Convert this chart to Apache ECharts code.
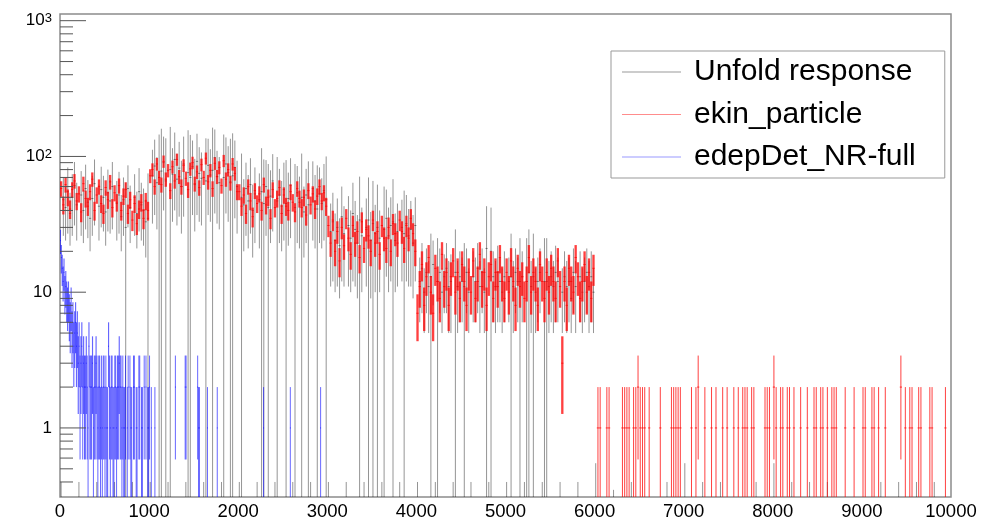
<!DOCTYPE html>
<html>
<head>
<meta charset="utf-8">
<script src="https://cdn.jsdelivr.net/npm/echarts@6/dist/echarts.min.js"></script>
<style>
  html, body { margin: 0; padding: 0; background: #fff; }
  #chart { width: 996px; height: 521px; }
</style>
</head>
<body>
<div id="chart"></div>
<script>
// ---- data ----
var seriesNames = ['Unfold response', 'ekin_particle', 'edepDet_NR-full'];

var binWidth = 25;      // black and red histograms
var blueBinWidth = 10;  // blue histogram

// Unfold response: bin contents and errors, 0..10000 in 25-unit bins
var blackVal = [
  0.2, 48, 42, 55, 38, 50, 61, 44, 0.2, 52, 40, 58, 46, 35, 49, 63, 0.2, 43, 57, 50,
  39, 54, 47, 60, 0.2, 45, 52, 36, 48, 30, 58, 42, 0.2, 50, 38, 55, 44, 40, 33, 35,
  0.2, 72, 85, 64, 70, 78, 90, 66, 0.2, 80, 74, 95, 68, 82, 60, 88, 0.2, 76, 70, 84,
  62, 92, 75, 69, 0.2, 66, 86, 73, 79, 98, 71, 64, 0.2, 70, 88, 76, 65, 72, 83, 60,
  0.2, 50, 44, 58, 47, 62, 40, 53, 0.2, 48, 55, 45, 60, 42, 51, 66, 0.2, 47, 52, 43,
  57, 45, 49, 61, 0.2, 42, 54, 46, 50, 39, 52, 44, 0.2, 58, 47, 41, 53, 45, 56, 48,
  0.2, 28, 33, 24, 30, 22, 36, 27, 0.2, 31, 25, 38, 29, 23, 34, 26, 0.2, 30, 34, 24,
  32, 27, 30, 25, 0.2, 29, 35, 26, 31, 33, 24, 28, 0.2, 30, 27, 32, 26, 29, 23, 31,
  0.2, 12, 15, 10, 14, 11, 13, 16, 0.2, 12, 14, 10, 13, 15, 11, 12, 0.2, 14, 11, 13,
  12, 11, 14, 10, 0.2, 13, 12, 15, 11, 14, 10, 21, 0.2, 20, 13, 11, 14, 12, 10, 13,
  0.2, 12, 13, 11, 14, 12, 12, 13, 0.2, 12, 14, 11, 13, 10, 12, 14, 0.2, 12, 12, 11,
  13, 11, 14, 12, 0.2, 10, 13, 11, 12, 9, 14, 11, 0.2, 13, 10, 12, 14, 11, 13, 10,
  0.3, 0, 0, 0, 0, 0, 0, 0, 0.18, 0, 0, 0, 0, 0, 0, 0, 0.2, 0, 0, 0,
  0, 0, 0, 0, 0, 0, 0, 0, 0, 0, 0, 0, 0.2, 0, 0, 0, 0, 0, 0, 0,
  0.3, 0, 0, 0, 0, 0, 0, 0, 0.2, 0, 0, 0, 0, 0, 0, 0, 0.2, 0, 0, 0,
  0, 0, 0, 0, 0, 0, 0, 0, 0, 0, 0, 0, 0.2, 0, 0, 0, 0, 0, 0, 0,
  0.3, 0, 0, 0, 0, 0, 0, 0, 0.2, 0, 0, 0, 0, 0, 0, 0, 0.2, 0, 0, 0,
  0, 0, 0, 0, 0.2, 0, 0, 0, 0, 0, 0, 0, 0, 0, 0, 0, 0, 0, 0, 0,
  0, 0, 0, 0, 0, 0, 0, 0, 0.2, 0, 0, 0, 0, 0, 0, 0, 0.2, 0, 0, 0,
  0, 0, 0, 0, 0.2, 0, 0, 0, 0, 0, 0, 0, 0.2, 0, 0, 0, 0, 0, 0, 0
];
var blackErr = [
  0.2, 22, 18, 28, 16, 24, 30, 20, 0.2, 26, 17, 29, 21, 15, 23, 32, 0.2, 19, 27, 22,
  17, 26, 20, 31, 0.2, 21, 25, 16, 22, 34, 28, 19, 0.2, 24, 17, 27, 20, 18, 15, 40,
  0.2, 40, 48, 35, 75, 82, 50, 70, 0.2, 85, 41, 55, 37, 46, 33, 52, 0.2, 80, 74, 47,
  34, 55, 42, 38, 0.2, 70, 49, 40, 84, 60, 39, 35, 0.2, 75, 50, 43, 70, 76, 48, 33,
  0.2, 55, 24, 32, 26, 35, 22, 30, 0.2, 27, 60, 50, 34, 46, 28, 38, 0.2, 52, 29, 23,
  33, 49, 27, 36, 0.2, 46, 31, 25, 55, 21, 29, 48, 0.2, 34, 26, 45, 30, 24, 32, 52,
  0.2, 17, 21, 14, 19, 13, 24, 16, 0.2, 20, 15, 26, 18, 14, 37, 16, 0.2, 19, 36, 15,
  34, 17, 32, 15, 0.2, 31, 22, 16, 19, 35, 14, 17, 0.2, 18, 29, 20, 15, 18, 14, 19,
  0.2, 6, 8, 5, 7, 6, 14, 8, 0.2, 13, 7, 5, 6, 8, 6, 7, 0.2, 15, 6, 7,
  6, 12, 7, 5, 0.2, 7, 6, 8, 6, 7, 5, 22, 0.2, 22, 7, 6, 8, 6, 5, 7,
  0.2, 6, 14, 6, 7, 6, 13, 7, 0.2, 13, 15, 6, 14, 5, 6, 7, 0.2, 13, 13, 6,
  7, 6, 8, 6, 0.2, 5, 7, 6, 6, 4, 7, 6, 0.2, 7, 5, 6, 7, 6, 7, 5,
  0.25, 0, 0, 0, 0, 0, 0, 0, 0.17, 0, 0, 0, 0, 0, 0, 0, 0.2, 0, 0, 0,
  0, 0, 0, 0, 0, 0, 0, 0, 0, 0, 0, 0, 0.2, 0, 0, 0, 0, 0, 0, 0,
  0.25, 0, 0, 0, 0, 0, 0, 0, 0.2, 0, 0, 0, 0, 0, 0, 0, 0.2, 0, 0, 0,
  0, 0, 0, 0, 0, 0, 0, 0, 0, 0, 0, 0, 0.2, 0, 0, 0, 0, 0, 0, 0,
  0.25, 0, 0, 0, 0, 0, 0, 0, 0.2, 0, 0, 0, 0, 0, 0, 0, 0.2, 0, 0, 0,
  0, 0, 0, 0, 0.2, 0, 0, 0, 0, 0, 0, 0, 0, 0, 0, 0, 0, 0, 0, 0,
  0, 0, 0, 0, 0, 0, 0, 0, 0.2, 0, 0, 0, 0, 0, 0, 0, 0.2, 0, 0, 0,
  0, 0, 0, 0, 0.2, 0, 0, 0, 0, 0, 0, 0, 0.2, 0, 0, 0, 0, 0, 0, 0
];

// ekin_particle: counts, 0..10000 in 25-unit bins (error = sqrt(N))
var redVal = [
  58, 44, 62, 50, 41, 57, 66, 47, 53, 39, 63, 49, 43, 55, 68, 40, 52, 60, 45, 38,
  59, 48, 65, 42, 54, 46, 61, 40, 51, 57, 38, 48, 34, 45, 32, 41, 46, 35, 47, 40,
  72, 80, 60, 88, 70, 62, 92, 68, 79, 56, 84, 66, 95, 71, 60, 86, 69, 57, 81, 90,
  63, 77, 59, 87, 70, 97, 65, 79, 58, 89, 71, 83, 61, 93, 68, 80, 64, 88, 75, 55,
  55, 43, 52, 38, 60, 47, 36, 56, 45, 53, 40, 62, 44, 50, 35, 57, 42, 49, 59, 38,
  52, 43, 40, 55, 46, 39, 58, 49, 42, 50, 37, 56, 44, 53, 41, 51, 60, 47, 54, 43,
  31, 23, 34, 20, 28, 17, 30, 22, 35, 25, 19, 31, 23, 28, 18, 33, 21, 29, 26, 20,
  34, 23, 28, 19, 31, 25, 21, 30, 20, 32, 27, 23, 34, 28, 21, 31, 25, 35, 27, 20,
  7, 11, 16, 8, 13, 18, 10, 7, 15, 12, 9, 19, 11, 14, 8, 13, 17, 10, 14, 9,
  16, 12, 8, 14, 10, 17, 9, 12, 19, 11, 14, 8, 13, 16, 9, 14, 11, 18, 12, 9,
  14, 10, 17, 12, 8, 15, 11, 13, 9, 12, 18, 10, 14, 12, 8, 16, 12, 9, 14, 10,
  15, 12, 9, 17, 11, 3, 12, 8, 15, 12, 10, 18, 13, 9, 12, 16, 10, 14, 9, 15,
  0, 1, 1, 0, 0, 1, 1, 0, 0, 0, 0, 0, 1, 1, 1, 1, 0, 1, 1, 2,
  1, 1, 1, 0, 1, 0, 0, 0, 0, 1, 0, 0, 0, 0, 1, 1, 1, 1, 1, 0,
  0, 0, 0, 1, 0, 1, 2, 0, 0, 1, 0, 0, 1, 0, 1, 0, 0, 1, 0, 1,
  0, 0, 1, 0, 1, 0, 1, 1, 1, 0, 1, 1, 0, 0, 0, 0, 1, 1, 1, 0,
  2, 1, 0, 1, 1, 0, 1, 1, 0, 1, 0, 0, 1, 0, 0, 1, 0, 0, 1, 1,
  0, 1, 1, 0, 1, 0, 1, 1, 1, 0, 0, 0, 1, 0, 0, 0, 1, 0, 0, 0,
  1, 1, 0, 0, 1, 1, 0, 1, 0, 0, 1, 0, 0, 0, 0, 0, 0, 2, 0, 1,
  0, 1, 1, 0, 0, 1, 1, 0, 0, 0, 1, 1, 0, 0, 0, 0, 0, 1, 0, 0
];

// edepDet_NR-full: counts, 0..3000 in 10-unit bins (error = sqrt(N))
var blueVal = [
  24, 18, 15, 12, 14, 10, 11, 9, 8, 9, 7, 6, 8, 5, 6, 4, 5, 6, 4, 5,
  3, 4, 2, 3, 4, 2, 3, 2, 2, 3, 2, 1, 4, 2, 2, 2, 3, 1, 2, 2,
  3, 2, 1, 2, 2, 1, 2, 1, 2, 2, 1, 2, 1, 1, 4, 2, 1, 2, 2, 1,
  1, 2, 2, 1, 2, 2, 3, 2, 2, 1, 2, 1, 1, 2, 0, 1, 2, 0, 2, 1,
  1, 0, 2, 2, 0, 1, 1, 0, 2, 2, 0, 1, 1, 0, 2, 0, 2, 0, 1, 1,
  2, 0, 1, 0, 0, 0, 1, 0, 0, 0, 0, 0, 0, 0, 0, 0, 0, 0, 0, 0,
  0, 0, 0, 0, 0, 0, 0, 0, 0, 2, 0, 0, 0, 0, 0, 0, 0, 0, 0, 0,
  2, 2, 0, 0, 0, 0, 0, 0, 0, 0, 0, 0, 0, 0, 2, 1, 1, 0, 0, 0,
  0, 0, 0, 0, 0, 1, 0, 0, 0, 0, 0, 0, 0, 0, 0, 0, 1, 0, 0, 0,
  0, 0, 0, 0, 0, 0, 0, 0, 0, 0, 0, 0, 0, 0, 0, 0, 0, 0, 0, 0,
  0, 0, 0, 0, 0, 0, 0, 0, 0, 0, 0, 0, 0, 0, 0, 0, 0, 0, 0, 0,
  0, 0, 0, 0, 0, 0, 0, 0, 1, 0, 0, 0, 0, 0, 0, 0, 0, 0, 0, 0,
  0, 0, 0, 0, 0, 0, 0, 0, 0, 0, 0, 0, 0, 0, 0, 0, 0, 0, 1, 0,
  0, 0, 0, 0, 0, 0, 0, 0, 0, 0, 0, 0, 0, 0, 0, 0, 0, 0, 0, 0,
  0, 0, 0, 0, 0, 0, 0, 0, 0, 0, 0, 0, 1, 0, 0, 0, 0, 0, 0, 0
];

var xTickLabels = [0, 1000, 2000, 3000, 4000, 5000, 6000, 7000, 8000, 9000, 10000];
var yMajorTicks = [1, 10, 100, 1000];
var yMinorTicks = [0.4, 0.5, 0.6, 0.7, 0.8, 0.9,
  2, 3, 4, 5, 6, 7, 8, 9, 20, 30, 40, 50, 60, 70, 80, 90,
  200, 300, 400, 500, 600, 700, 800, 900];
var yMin = 0.31, yMax = 1120;

// ---- build chart ----
var myChart = echarts.init(document.getElementById('chart'));

function toBars(vals, errs, bw) {
  var out = [];
  for (var i = 0; i < vals.length; i++) {
    if (vals[i] <= 0) continue;
    var e = errs ? errs[i] : Math.sqrt(vals[i]);
    out.push([(i + 0.5) * bw, vals[i], e]);
  }
  return out;
}

// vertical error bar + small bin-wide marker at the content;
// well-filled bins are drawn as wide as the bin, sparse ones as a hairline
function errorBars(color, bw, widthScale) {
  return function (params, api) {
    var x = api.value(0), v = api.value(1), e = api.value(2);
    var lo = v - e > 0 ? v - e : yMin / 10;
    var top = api.coord([x, v + e]);
    var bot = api.coord([x, lo]);
    var mid = api.coord([x, v]);
    var w = api.size([bw, 1])[0];
    var lw = widthScale && v >= 3 ? Math.max(1, w * widthScale) : 1;
    return {
      type: 'group',
      children: [
        { type: 'line', shape: { x1: top[0], y1: top[1], x2: bot[0], y2: bot[1] },
          style: { stroke: color, lineWidth: lw } },
        { type: 'line', shape: { x1: mid[0] - w / 2, y1: mid[1], x2: mid[0] + w / 2, y2: mid[1] },
          style: { stroke: color, lineWidth: 1 } }
      ]
    };
  };
}

function yTickItem(len) {
  return function (params, api) {
    var p = api.coord([0, api.value(1)]);
    return { type: 'line', shape: { x1: p[0], y1: p[1], x2: p[0] + len, y2: p[1] },
      style: { stroke: '#555', lineWidth: 1 } };
  };
}

var supLabels = { 100: '10{sup|2}', 1000: '10{sup|3}', 10: '10', 1: '1' };

var option = {
  animation: false,
  backgroundColor: '#fff',
  grid: { left: 60, right: 45, top: 14, bottom: 21, show: true,
    borderColor: '#8c8c8c', borderWidth: 1.5, backgroundColor: 'transparent' },
  legend: {
    orient: 'vertical',
    left: 611, top: 51,
    padding: [6, 29, 6, 11],
    itemGap: 12.5,
    itemWidth: 59, itemHeight: 1,
    icon: 'rect',
    borderColor: '#999', borderWidth: 1,
    backgroundColor: '#fff',
    textStyle: { fontFamily: 'Liberation Sans', fontSize: 30, lineHeight: 30,
      color: '#000', padding: [0, 0, 0, 8] },
    data: [
      { name: seriesNames[0], itemStyle: { color: 'rgba(0,0,0,0.4)' } },
      { name: seriesNames[1], itemStyle: { color: 'rgba(255,0,0,0.45)' } },
      { name: seriesNames[2], itemStyle: { color: 'rgba(0,0,255,0.4)' } }
    ]
  },
  xAxis: {
    type: 'value', min: 0, max: 10000, interval: 1000,
    axisLine: { show: false }, axisTick: { show: false }, splitLine: { show: false },
    axisLabel: { color: '#000', fontFamily: 'Liberation Sans', fontSize: 18.5, margin: 5,
      formatter: function (v) { return xTickLabels.indexOf(v) >= 0 ? String(v) : ''; } }
  },
  yAxis: {
    type: 'log', logBase: 10, min: yMin, max: yMax,
    axisLine: { show: false }, axisTick: { show: false }, splitLine: { show: false },
    axisLabel: {
      color: '#000', fontFamily: 'Liberation Sans', fontSize: 17, margin: 8,
      showMinLabel: false, showMaxLabel: false,
      formatter: function (v) {
        var r = Math.round(v);
        return Math.abs(v - r) < 1e-6 && supLabels[r] ? supLabels[r] : '';
      },
      rich: { sup: { fontSize: 13, verticalAlign: 'top', lineHeight: 13 } }
    }
  },
  series: [
    { name: seriesNames[0], type: 'custom', clip: true, z: 2,
      itemStyle: { color: 'rgba(0,0,0,0.4)' },
      renderItem: errorBars('rgba(0,0,0,0.42)', binWidth),
      encode: { x: 0, y: 1 },
      data: toBars(blackVal, blackErr, binWidth) },
    { name: seriesNames[1], type: 'custom', clip: true, z: 3,
      itemStyle: { color: 'rgba(255,0,0,0.45)' },
      renderItem: errorBars('rgba(255,0,0,0.75)', binWidth, 1.05),
      encode: { x: 0, y: 1 },
      data: toBars(redVal, null, binWidth) },
    { name: seriesNames[2], type: 'custom', clip: true, z: 4,
      itemStyle: { color: 'rgba(0,0,255,0.4)' },
      renderItem: errorBars('rgba(0,0,255,0.6)', blueBinWidth, 1.3),
      encode: { x: 0, y: 1 },
      data: toBars(blueVal, null, blueBinWidth) },
    { name: 'majorTicks', type: 'custom', z: 6, silent: true,
      renderItem: yTickItem(26), encode: { x: 0, y: 1 },
      data: yMajorTicks.map(function (v) { return [0, v]; }) },
    { name: 'minorTicks', type: 'custom', z: 6, silent: true,
      renderItem: yTickItem(13), encode: { x: 0, y: 1 },
      data: yMinorTicks.map(function (v) { return [0, v]; }) }
  ]
};

myChart.setOption(option);
window.addEventListener('resize', function () {
  myChart.resize();
});
</script>
</body>
</html>
